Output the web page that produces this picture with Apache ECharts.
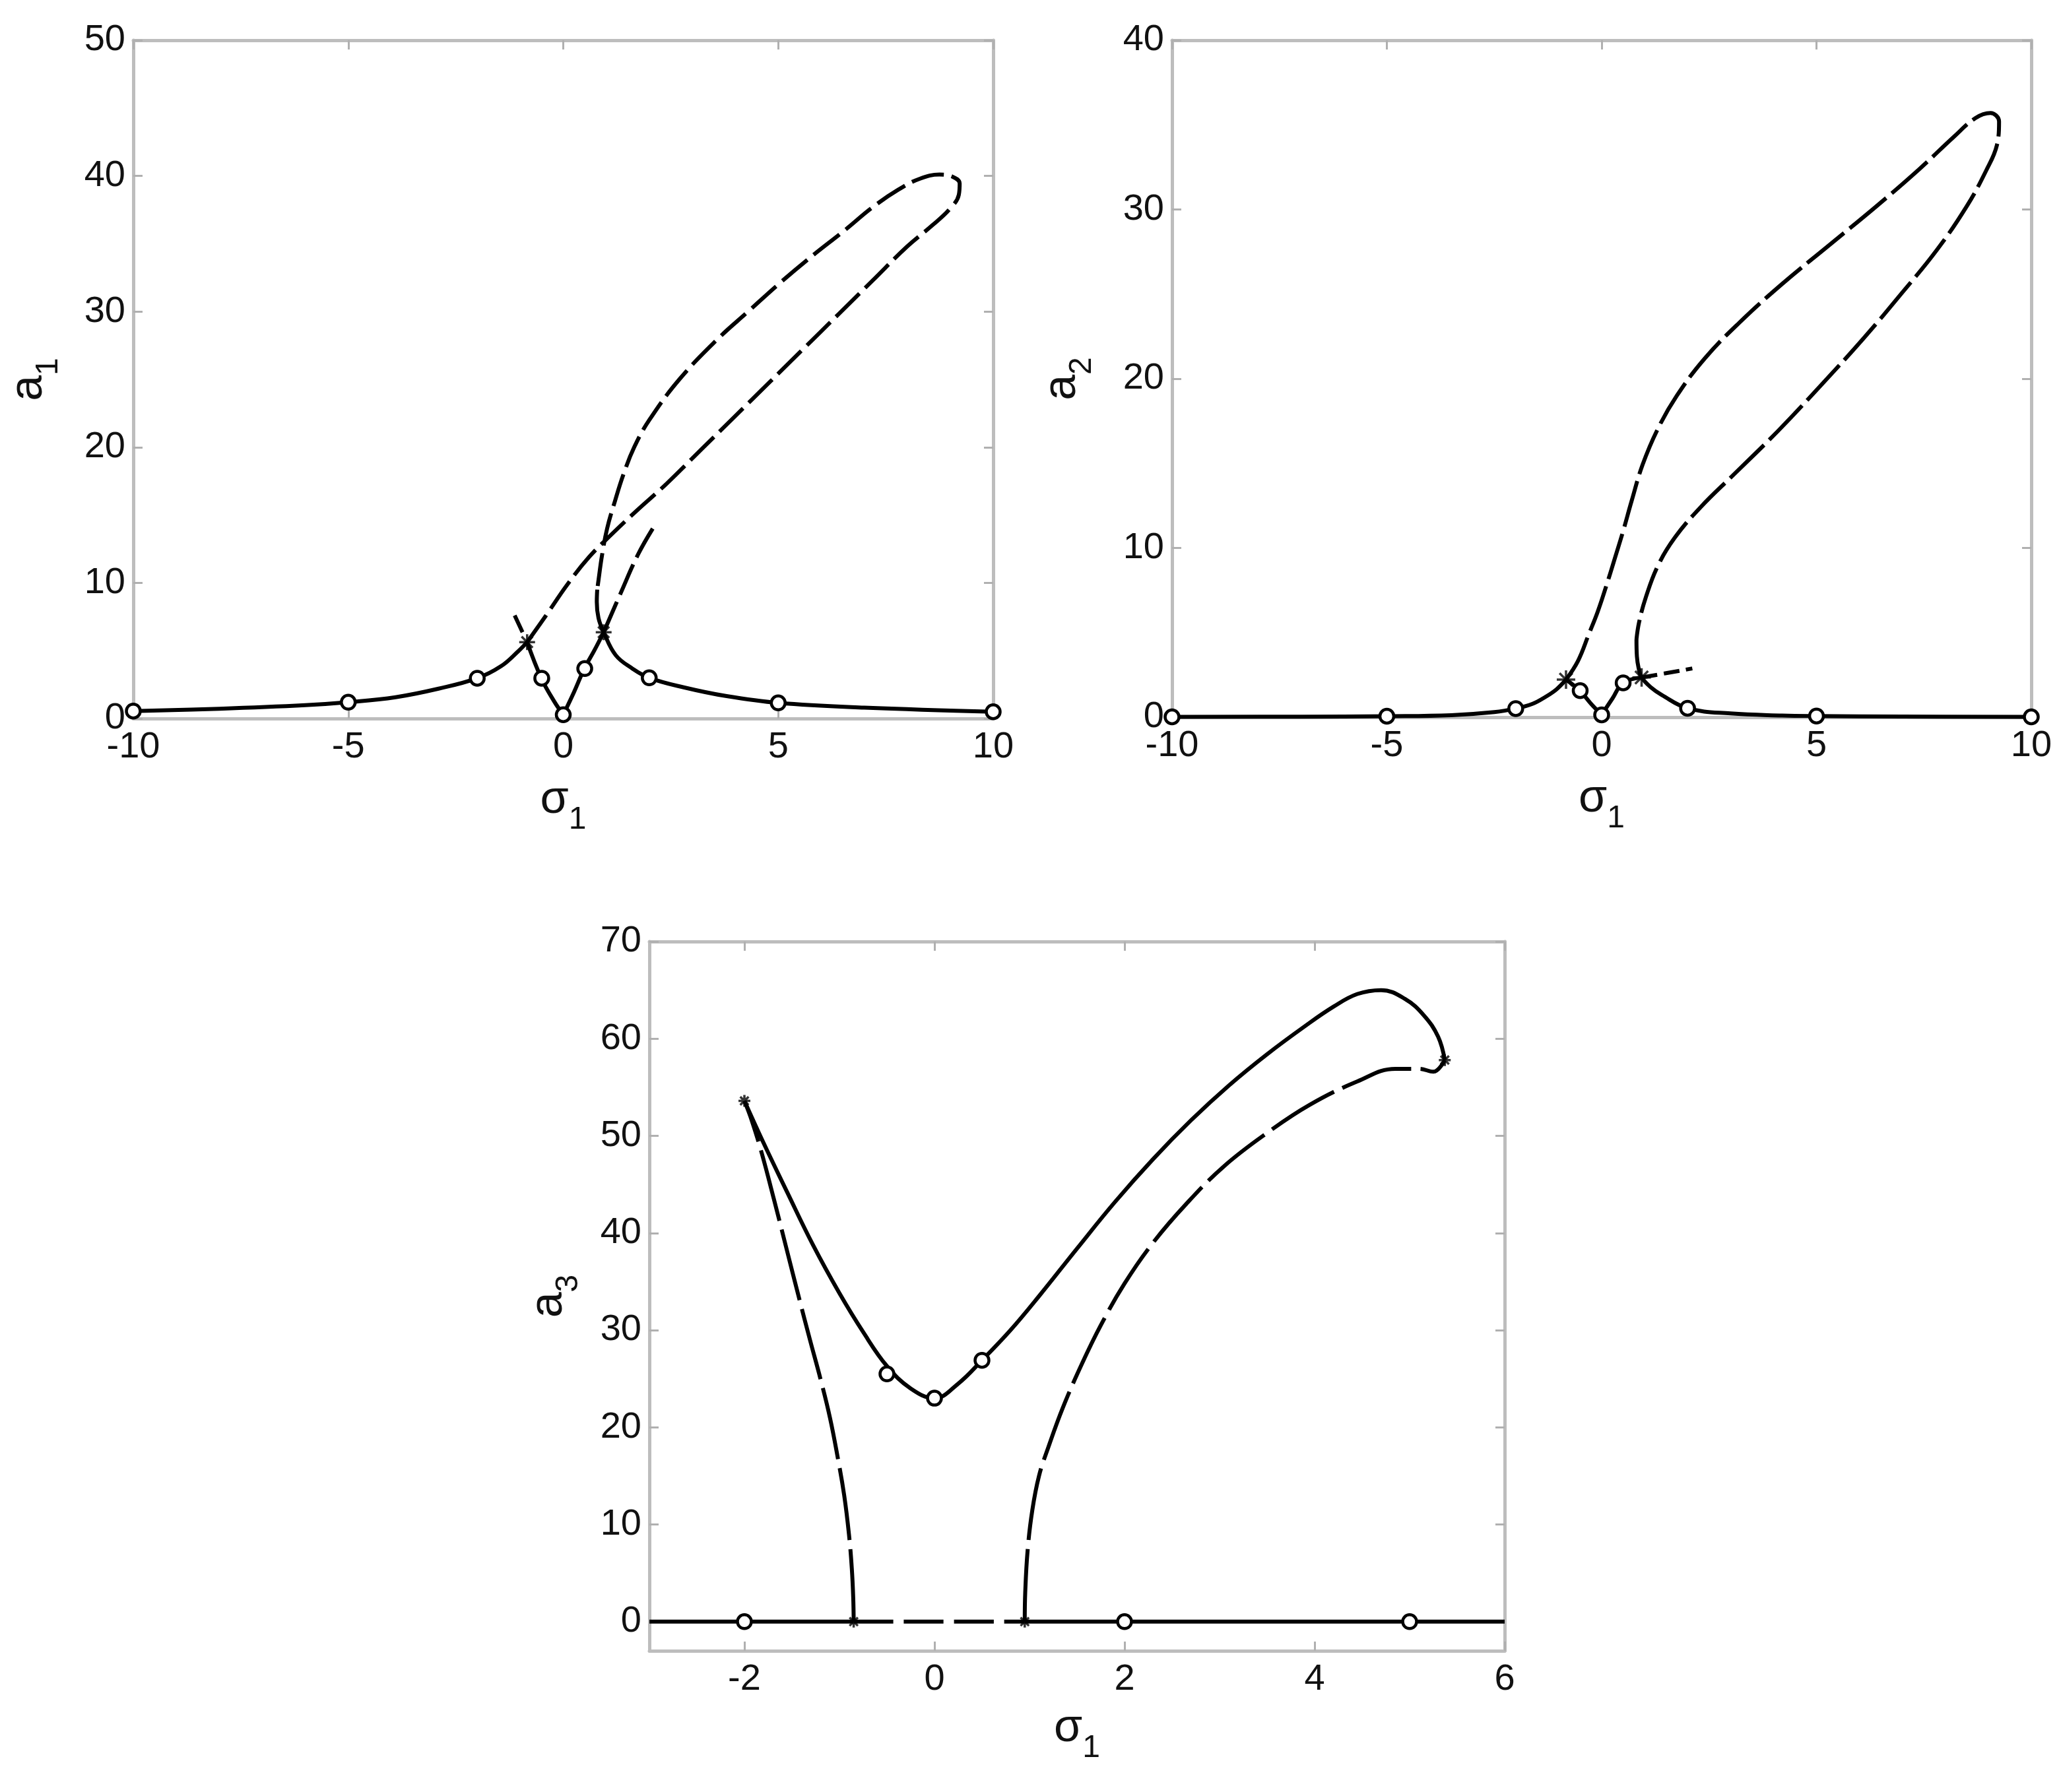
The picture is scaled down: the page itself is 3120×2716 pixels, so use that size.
<!DOCTYPE html>
<html><head><meta charset="utf-8">
<script src="https://cdn.jsdelivr.net/npm/echarts@6/dist/echarts.min.js"></script>
<style>html,body{margin:0;padding:0;background:#fff}#c{width:3120px;height:2716px}</style>
</head><body><div id="c"></div><script>
// ---------------- DATA ----------------
const markerSigma = [-10, -5, -2, -0.5, 0, 0.5, 2, 5, 10];

// ---- Plot 1 : a1 ----
const a1Markers = [0.55, 1.2, 2.97, 2.97, 0.28, 3.68, 3.0, 1.15, 0.5];
const a1LeftS = [-10, -8, -6, -5, -3.9, -2.9, -2, -1.45, -1.05, -0.84];
const a1LeftA = [0.55, 0.72, 0.98, 1.2, 1.57, 2.2, 2.97, 3.85, 4.95, 5.63];
const a1LoopS = [-0.84, -0.4, 0.1, 0.6, 1.1, 1.7, 2.4, 3.2, 4.0, 4.8, 5.6, 6.4, 7.2, 8.0, 8.6, 9.0, 9.2, 9.22, 9.05, 8.75, 8.3, 7.8, 7.2, 6.55, 5.75, 5.0, 4.3, 3.6, 2.7, 2.0, 1.65, 1.4, 1.2, 1.02, 0.9, 0.82, 0.79];
const a1LoopA = [5.63, 7.6, 9.9, 11.9, 13.5, 15.3, 17.3, 19.8, 22.3, 24.8, 27.3, 29.8, 32.3, 34.8, 36.4, 37.6, 38.6, 39.45, 39.95, 40.1, 39.8, 39.0, 37.7, 36.0, 34.0, 32.0, 30.0, 28.0, 25.0, 22.0, 20.0, 18.0, 16.0, 14.0, 12.0, 10.2, 9.5];
const a1RightS = [0.79, 0.78, 0.82, 0.94, 1.22, 1.6, 2, 2.8, 3.8, 5, 7, 10];
const a1RightA = [9.5, 8.6, 7.4, 6.36, 4.67, 3.7, 3.0, 2.3, 1.65, 1.15, 0.8, 0.5];
const a1VLeftDashS = [-1.13, -0.84];
const a1VLeftDashA = [7.6, 5.63];
const a1VLeftS = [-0.84, -0.51, -0.21, 0];
const a1VLeftA = [5.63, 2.97, 1.26, 0.28];
const a1VRightS = [0, 0.25, 0.49, 0.72, 0.94];
const a1VRightA = [0.28, 1.95, 3.68, 5.0, 6.36];
const a1VRightDashS = [0.94, 1.33, 1.74, 2.09];
const a1VRightDashA = [6.36, 9.2, 12.1, 14.05];
const a1StarS = [-0.84, 0.94];
const a1StarA = [5.63, 6.36];

// ---- Plot 2 : a2 ----
const a2Markers = [0.02, 0.06, 0.51, 1.57, 0.14, 2.03, 0.53, 0.07, 0.02];
const a2LeftS = [-10, -7, -5, -3.5, -2.5, -2, -1.6, -1.32, -1.05, -0.83];
const a2LeftA = [0.02, 0.03, 0.06, 0.12, 0.3, 0.51, 0.8, 1.18, 1.65, 2.22];
const a2LoopS = [-0.83, -0.55, -0.3, -0.09, 0.15, 0.32, 0.5, 0.7, 0.95, 1.3, 1.75, 2.4, 3.2, 4.2, 5.3, 6.4, 7.4, 8.2, 8.7, 9.05, 9.25, 9.2, 8.95, 8.5, 7.8, 7.0, 6.1, 5.1, 4.1, 3.1, 2.3, 1.7, 1.3, 1.03, 0.87, 0.81];
const a2LoopA = [2.22, 3.33, 4.9, 6.25, 8.1, 9.5, 11.0, 12.8, 14.9, 17.0, 19.0, 21.2, 23.3, 25.6, 27.9, 30.2, 32.4, 34.3, 35.4, 35.7, 35.2, 33.8, 32.3, 30.2, 27.6, 25.1, 22.4, 19.6, 16.9, 14.4, 12.4, 10.6, 8.9, 7.1, 5.6, 4.6];
const a2RightS = [0.81, 0.82, 0.86, 0.93, 1.15, 1.4, 2, 3, 4.2, 5, 7, 10];
const a2RightA = [4.6, 3.6, 2.9, 2.35, 1.75, 1.31, 0.53, 0.22, 0.1, 0.07, 0.04, 0.02];
const a2VLeftS = [-0.83, -0.51, -0.25, 0];
const a2VLeftA = [2.22, 1.57, 0.8, 0.14];
const a2VRightS = [0, 0.25, 0.5, 0.93];
const a2VRightA = [0.14, 1.1, 2.03, 2.35];
const a2VRightDashS = [0.93, 1.5, 2.11];
const a2VRightDashA = [2.35, 2.6, 2.88];
const a2StarS = [-0.83, 0.93];
const a2StarA = [2.22, 2.35];

// ---- Plot 3 : a3 ----
const a3BaseLeftS = [-3, -0.85];
const a3BaseMidS = [-0.85, 0.95];
const a3BaseRightS = [0.95, 6];
const a3BaseA = [0, 0];
const a3BaseMarkS = [-2, 2, 5];
const a3BaseMarkA = [0, 0, 0];
const a3UpMarkS = [-0.5, 0, 0.5];
const a3UpMarkA = [25.5, 23.0, 26.9];
const a3StarS = [-2, 5.37, -0.85, 0.95];
const a3StarA = [53.6, 57.8, 0, 0];
const a3LeftDashS = [-0.85, -0.855, -0.87, -0.9, -0.95, -1.02, -1.1, -1.2, -1.31, -1.43, -1.56, -1.69, -1.82, -1.92, -2.0];
const a3LeftDashA = [0, 2.5, 5.5, 9, 13, 17, 21, 25, 29, 33.5, 38.5, 43.5, 48.3, 51.5, 53.6];
const a3UpperS = [-2, -1.8, -1.55, -1.28, -1.0, -0.75, -0.5, -0.25, 0, 0.25, 0.5, 0.8, 1.1, 1.5, 1.9, 2.3, 2.7, 3.1, 3.5, 3.9, 4.2, 4.45, 4.7, 4.95, 5.15, 5.3, 5.37];
const a3UpperA = [53.6, 49.3, 44.2, 38.8, 33.8, 29.8, 26.3, 24.0, 23.0, 24.5, 26.9, 30.0, 33.5, 38.4, 43.2, 47.6, 51.6, 55.2, 58.4, 61.3, 63.3, 64.6, 65.0, 64.1, 62.4, 60.2, 57.8];
const a3RightDashS = [0.95, 0.955, 0.98, 1.03, 1.1, 1.2, 1.35, 1.55, 1.75, 2.0, 2.3, 2.65, 3.05, 3.5, 3.95, 4.45, 4.85, 5.1, 5.25, 5.37];
const a3RightDashA = [0, 3, 7.3, 11.5, 15.0, 18.0, 22.0, 26.5, 30.5, 34.8, 39.0, 43.0, 46.9, 50.3, 53.2, 55.6, 56.9, 56.9, 56.6, 57.8];

// tick labels
const xTicks12 = [-10, -5, 0, 5, 10];
const yTicks1 = [0, 10, 20, 30, 40, 50];
const yTicks2 = [0, 10, 20, 30, 40];
const xTicks3 = [-2, 0, 2, 4, 6];
const yTicks3 = [0, 10, 20, 30, 40, 50, 60, 70];

// ---------------- CHART ----------------
const TICKFONT = '"Liberation Sans Narrow", "Liberation Sans", sans-serif';
const NAMEFONT = '"Liberation Sans", sans-serif';
const AXIS_COLOR = '#bdbdbd';
const LW = 6;
const pairs = (S, A) => S.map((s, i) => [s, A[i]]);

const grids = [
  {left: 202, top: 61, width: 1303, height: 1028},
  {left: 1776, top: 61, width: 1302, height: 1026},
  {left: 984, top: 1427, width: 1296, height: 1075}
];

function nameStyle() {
  return {
    color: '#111', fontFamily: NAMEFONT,
    rich: {
      m: {fontSize: 70, fontFamily: NAMEFONT, color: '#111'},
      s: {fontSize: 48, fontFamily: NAMEFONT, color: '#111', padding: [60, 0, 0, 0]}
    }
  };
}

const xAxes = [], yAxes = [];
function addAxes(gi, xmin, xmax, xticks, ymin, ymax, yticks, yname, xgap, ygap) {
  const lab = {fontSize: 56, fontFamily: TICKFONT, color: '#111'};
  const tick = {show: true, inside: true, length: 14, lineStyle: {color: '#b0b0b0', width: 3}};
  const line = {show: true, onZero: false, lineStyle: {color: AXIS_COLOR, width: 5}};
  xAxes.push({
    type: 'value', gridIndex: gi, position: 'bottom', min: xmin, max: xmax,
    axisLine: line, axisTick: Object.assign({customValues: xticks}, tick),
    axisLabel: Object.assign({customValues: xticks, margin: 16, formatter: v => String(v)}, lab),
    splitLine: {show: false},
    name: '{m|σ}{s|1}', nameLocation: 'middle', nameGap: xgap, nameMoveOverlap: false,
    nameTextStyle: nameStyle()
  });
  xAxes.push({
    type: 'value', gridIndex: gi, position: 'top', min: xmin, max: xmax,
    axisLine: line, axisTick: Object.assign({customValues: xticks}, tick),
    axisLabel: {show: false}, splitLine: {show: false}
  });
  yAxes.push({
    type: 'value', gridIndex: gi, position: 'left', min: ymin, max: ymax,
    axisLine: line, axisTick: Object.assign({customValues: yticks}, tick),
    axisLabel: Object.assign({customValues: yticks, margin: 12, formatter: v => String(v)}, lab),
    splitLine: {show: false},
    name: '{m|a}{s|' + yname + '}', nameLocation: 'middle', nameGap: ygap, nameRotate: 90, nameMoveOverlap: false,
    nameTextStyle: nameStyle()
  });
  yAxes.push({
    type: 'value', gridIndex: gi, position: 'right', min: ymin, max: ymax,
    axisLine: line, axisTick: Object.assign({customValues: yticks}, tick),
    axisLabel: {show: false}, splitLine: {show: false}
  });
}
addAxes(0, -10, 10, xTicks12, 0, 50, yTicks1, '1', 70, 104);
addAxes(1, -10, 10, xTicks12, 0, 40, yTicks2, '2', 70, 112);
addAxes(2, -3, 6, xTicks3, -3, 70, yTicks3, '3', 64, 98);

const series = [];
function curve(gi, S, A, dash) {
  series.push({
    type: 'line', xAxisIndex: 2 * gi, yAxisIndex: 2 * gi,
    data: pairs(S, A), showSymbol: false, symbol: 'none', smooth: 0.4,
    lineStyle: {color: '#000', width: LW, type: dash || 'solid', cap: 'butt', join: 'round'},
    z: 3, silent: true, animation: false, clip: true
  });
}
function circles(gi, S, A) {
  series.push({
    type: 'scatter', xAxisIndex: 2 * gi, yAxisIndex: 2 * gi,
    data: pairs(S, A), symbol: 'circle', symbolSize: 21,
    itemStyle: {color: '#fff', borderColor: '#000', borderWidth: 4.5, opacity: 1},
    z: 6, silent: true, animation: false
  });
}
const STAR = 'path://M0,-10L0,10M-10,0L10,0M-7,-7L7,7M-7,7L7,-7';
function stars(gi, S, A, size) {
  series.push({
    type: 'scatter', xAxisIndex: 2 * gi, yAxisIndex: 2 * gi,
    data: pairs(S, A), symbol: STAR, symbolSize: size,
    itemStyle: {color: 'none', borderColor: '#000', borderWidth: 3.5},
    z: 5, silent: true, animation: false
  });
}

// plot 1
const D1 = [50, 12];
curve(0, a1LeftS, a1LeftA);
curve(0, a1LoopS, a1LoopA, D1);
curve(0, a1RightS, a1RightA);
curve(0, a1VLeftDashS, a1VLeftDashA, [28, 14]);
curve(0, a1VLeftS, a1VLeftA);
curve(0, a1VRightS, a1VRightA);
curve(0, a1VRightDashS, a1VRightDashA, D1);
stars(0, a1StarS, a1StarA, 24);
circles(0, markerSigma, a1Markers);

// plot 2
const D2 = [72, 11];
curve(1, a2LeftS, a2LeftA);
curve(1, a2LoopS, a2LoopA, D2);
curve(1, a2RightS, a2RightA);
curve(1, a2VLeftS, a2VLeftA);
curve(1, a2VRightS, a2VRightA);
curve(1, a2VRightDashS, a2VRightDashA, [24, 10]);
stars(1, a2StarS, a2StarA, 28);
circles(1, markerSigma, a2Markers);

// plot 3
const D3 = [110, 14];
curve(2, a3BaseLeftS, a3BaseA);
curve(2, a3BaseMidS, a3BaseA, [60, 16]);
curve(2, a3BaseRightS, a3BaseA);
curve(2, a3LeftDashS, a3LeftDashA, D3);
curve(2, a3UpperS, a3UpperA);
curve(2, a3RightDashS, a3RightDashA, D3);
stars(2, a3StarS, a3StarA, 18);
circles(2, a3BaseMarkS, a3BaseMarkA);
circles(2, a3UpMarkS, a3UpMarkA);

const chart = echarts.init(document.getElementById('c'), null, {renderer: 'canvas'});
chart.setOption({
  backgroundColor: '#fff',
  animation: false,
  grid: grids.map(g => Object.assign({containLabel: false, outerBoundsMode: 'none'}, g)),
  xAxis: xAxes,
  yAxis: yAxes,
  series: series
});
</script></body></html>
